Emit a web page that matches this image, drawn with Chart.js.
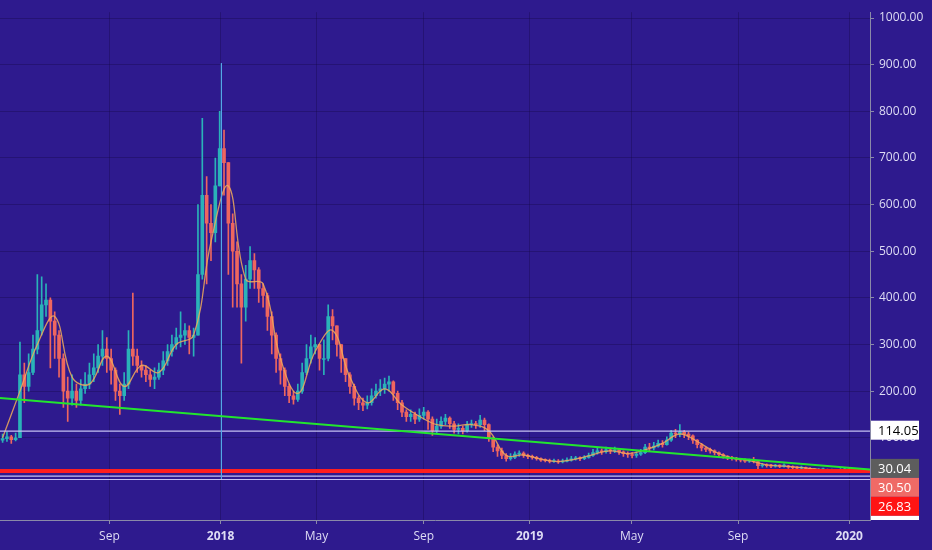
<!DOCTYPE html>
<html>
<head>
<meta charset="utf-8">
<script src="https://cdn.jsdelivr.net/npm/chart.js@4.4.0/dist/chart.umd.min.js"></script>
<style>
  html, body { margin: 0; padding: 0; background: #2e1a8e; }
  #wrap { width: 932px; height: 550px; }
</style>
</head>
<body>
<div id="wrap"><canvas id="c" width="932" height="550"></canvas></div>
<script>
// ---- data ----
const startDay = 2;      // day of first candle (days since late Apr 2017)
const candleDays = 5;    // days per candle
const firstOpen = 95;
const closes = [
  98,102,96,100,235,210,240,290,330,385,
  395,350,320,270,200,185,200,180,205,215,
  235,250,275,290,270,245,200,190,215,290,
  275,255,245,235,225,230,245,265,285,300,
  315,320,330,315,320,450,620,560,540,640,
  720,690,560,500,430,380,440,480,460,420,
  405,360,320,270,245,210,190,182,200,240,
  270,295,300,270,270,360,340,300,270,235,
  210,185,175,170,175,190,200,205,215,220,
  195,175,155,145,150,140,148,155,140,115,
  125,135,142,130,118,120,115,128,130,128,
  138,128,100,80,72,62,55,58,65,67,
  62,60,58,55,52,51,49,50,48,50,
  52,55,56,55,58,62,68,72,70,74,
  72,74,70,66,64,62,65,68,80,78,
  82,88,85,95,110,108,112,108,104,95,
  85,78,75,72,68,64,60,57,56,54,
  52,50,51,49,40,41,40,39,40,39,
  40,37,36,35,36,34,32,31,31,32,
  30,30,29,31,32,31,30.04
];
const highs = [
  108,112,105,110,305,260,280,320,450,445,
  430,400,370,330,280,230,235,215,225,240,
  260,280,300,330,315,290,250,215,240,330,
  410,290,265,255,245,250,260,285,300,320,
  335,370,345,340,335,600,785,660,600,700,
  800,760,690,580,520,450,470,510,495,465,
  430,410,370,325,280,250,215,200,215,260,
  300,320,315,300,310,385,375,340,300,270,
  240,215,190,185,190,205,215,225,228,232,
  222,200,180,160,160,155,162,165,158,145,
  140,145,150,145,135,130,125,135,138,135,
  148,142,130,102,85,78,66,66,70,72,
  70,65,63,60,57,55,54,54,53,54,
  57,60,60,59,62,67,75,78,76,80,
  78,80,76,72,70,68,70,75,86,88,
  90,95,94,102,116,118,128,116,112,106,
  96,88,80,78,74,70,66,62,60,58,
  56,55,54,58,50,45,44,43,43,42,
  44,41,40,38,39,37,36,34,34,35,
  33,33,32,34,35,34,32
];
const lows = [
  90,92,88,93,100,175,200,235,280,320,
  360,250,270,230,165,135,170,165,170,195,
  205,220,240,255,240,215,180,150,180,205,
  255,240,230,220,210,205,225,235,255,275,
  290,295,300,280,275,320,440,430,480,520,
  640,620,450,380,380,260,350,420,420,390,
  380,330,280,240,215,190,175,172,178,195,
  235,260,280,245,235,265,310,275,240,220,
  195,170,160,158,162,170,185,190,195,200,
  180,160,145,135,135,130,135,140,118,105,
  110,120,128,120,110,108,108,112,122,120,
  122,115,92,70,60,55,50,52,55,60,
  58,55,54,52,49,48,46,47,45,46,
  48,50,52,51,53,56,60,65,64,67,
  66,68,64,60,58,57,58,62,66,72,
  74,80,80,84,92,100,102,100,96,88,
  78,72,70,67,63,60,56,53,52,50,
  48,47,47,46,33,37,37,36,37,36,
  37,34,33,32,33,31,30,28,28,29,
  27,27,27,28,29,29,29
];
// moving-average line (one value every 20 days)
const maStartDay = 2;
const maStepDays = 20;
const maVals = [
  100,200,300,360,230,215,275,210,255,240,
  300,320,520,640,440,430,270,195,285,330,
  230,175,205,170,146,128,125,128,115,62,
  63,54,49,54,64,72,66,74,88,108,
  92,70,57,51,42,39,36,32,30,30.5
];
// x-axis tick labels and their dates (days since start)
const tickDays   = [125, 253, 363.5, 487, 609, 726.5, 849, 977];
const tickLabels = ['Sep', '2018', 'May', 'Sep', '2019', 'May', 'Sep', '2020'];
// y-axis ticks
const yTicks = [100, 200, 300, 400, 500, 600, 700, 800, 900, 1000];
// drawn lines
const trendDays = [-1, 1001];
const trendVals = [185, 32];
const vLineDay = 254;
const vLineVals = [903, 11.5];
const whiteLevels = [114.05, 17.8, 10.5];
const redLevels = [30.50, 26.83];
// price-scale label boxes
const boxLabels = ['114.05', '30.04', '30.50', '26.83', '23.54'];
const boxValues = [114.05, 30.04, 30.50, 26.83, 23.54];

// ---- build ----
const X_MIN = -1, X_MAX = 1001, Y_MIN = -76.4, Y_MAX = 1012.6;
const UP = '#2ab2b8', DOWN = '#ee665f';
const bodies = [], wicks = [], colors = [];
for (let i = 0; i < closes.length; i++) {
  const o = i === 0 ? firstOpen : closes[i - 1];
  const d = startDay + i * candleDays;
  bodies.push({ x: d, y: [o, closes[i]] });
  wicks.push({ x: d, y: [lows[i], highs[i]] });
  colors.push(closes[i] >= o ? UP : DOWN);
}
function hline(v, color, w) {
  return { type: 'line', data: [{ x: X_MIN, y: v }, { x: X_MAX, y: v }],
    borderColor: color, borderWidth: w, pointRadius: 0, order: 1 };
}
const datasets = [
  { type: 'bar', data: wicks, backgroundColor: colors, barThickness: 1, grouped: false, order: 10 },
  { type: 'bar', data: bodies, backgroundColor: colors, barThickness: 3, grouped: false, order: 9, minBarLength: 1 },
  { type: 'line', data: maVals.map((v, i) => ({ x: maStartDay + i * maStepDays, y: v })),
    borderColor: 'rgba(240,170,90,0.85)', borderWidth: 1.3, pointRadius: 0, tension: 0.4, order: 5 },
  ...whiteLevels.map(v => hline(v, '#c4c0f0', 1.2)),
  ...redLevels.map(v => hline(v, '#ff1e1e', 2.5)),
  { type: 'line', data: trendDays.map((d, i) => ({ x: d, y: trendVals[i] })),
    borderColor: '#22e62e', borderWidth: 2, pointRadius: 0, order: 0 },
  { type: 'line', data: vLineVals.map(v => ({ x: vLineDay, y: v })),
    borderColor: '#55a8e6', borderWidth: 1, pointRadius: 0, order: 0 },
];

const FONT = "'Open Sans', 'DejaVu Sans', sans-serif";
const boxPlugin = {
  id: 'boxes',
  afterDraw(chart) {
    const ctx = chart.ctx, ys = chart.scales.y;
    const left = chart.chartArea.right + 1, w = 48, h = 19;
    const fills = ['#ffffff', '#5d5d5d', '#ef6a66', '#ff1414', '#ffffff'];
    const texts = ['#000000', '#ffffff', '#ffffff', '#ffffff', '#000000'];
    ctx.save();
    ctx.beginPath();
    ctx.rect(left, 0, 70, chart.chartArea.bottom);
    ctx.clip();
    let prevBottom = -1e9;
    for (let i = 0; i < boxLabels.length; i++) {
      let cy = ys.getPixelForValue(boxValues[i]);
      if (i === 1) cy -= 2;
      let top = Math.max(cy - h / 2, prevBottom);
      if (i === 0) top = cy - h / 2 - 1;
      ctx.fillStyle = fills[i];
      ctx.fillRect(left, top, w, h);
      ctx.fillStyle = texts[i];
      ctx.font = '13px ' + FONT;
      ctx.textBaseline = 'middle';
      ctx.textAlign = 'left';
      ctx.fillText(boxLabels[i], left + 7, top + h / 2 + 1);
      if (i > 0) prevBottom = top + h;
    }
    ctx.restore();
  }
};

const GRID = 'rgba(20,10,70,0.35)';
new Chart(document.getElementById('c'), {
  data: { datasets },
  options: {
    responsive: false,
    animation: false,
    layout: { padding: 0 },
    plugins: { legend: { display: false }, tooltip: { enabled: false } },
    scales: {
      x: {
        type: 'linear', min: X_MIN, max: X_MAX,
        offset: false,
        afterBuildTicks: s => { s.ticks = tickDays.map(v => ({ value: v })); },
        afterFit: s => { s.height = 30; },
        grid: { color: GRID, offset: false, tickLength: 4, tickColor: '#8a8aa8' },
        border: { color: '#8a8aa8', width: 1 },
        ticks: {
          autoSkip: false, maxRotation: 0, padding: 5,
          color: '#dedcf4',
          font: c => ({ family: FONT, size: 12, weight: /^\d/.test(tickLabels[c.index] || '') ? 'bold' : 'normal' }),
          callback: (v, i) => tickLabels[i]
        }
      },
      y: {
        type: 'linear', position: 'right', min: Y_MIN, max: Y_MAX,
        afterBuildTicks: s => { s.ticks = yTicks.map(v => ({ value: v })); },
        afterFit: s => { s.width = 62; },
        grid: { color: GRID, tickLength: 4, tickColor: '#8a8aa8' },
        border: { color: '#8a8aa8', width: 1 },
        ticks: {
          padding: 5, color: '#dedcf4',
          font: { family: FONT, size: 12 },
          callback: v => Number(v).toFixed(2)
        }
      }
    }
  },
  plugins: [boxPlugin]
});
</script>
</body>
</html>
